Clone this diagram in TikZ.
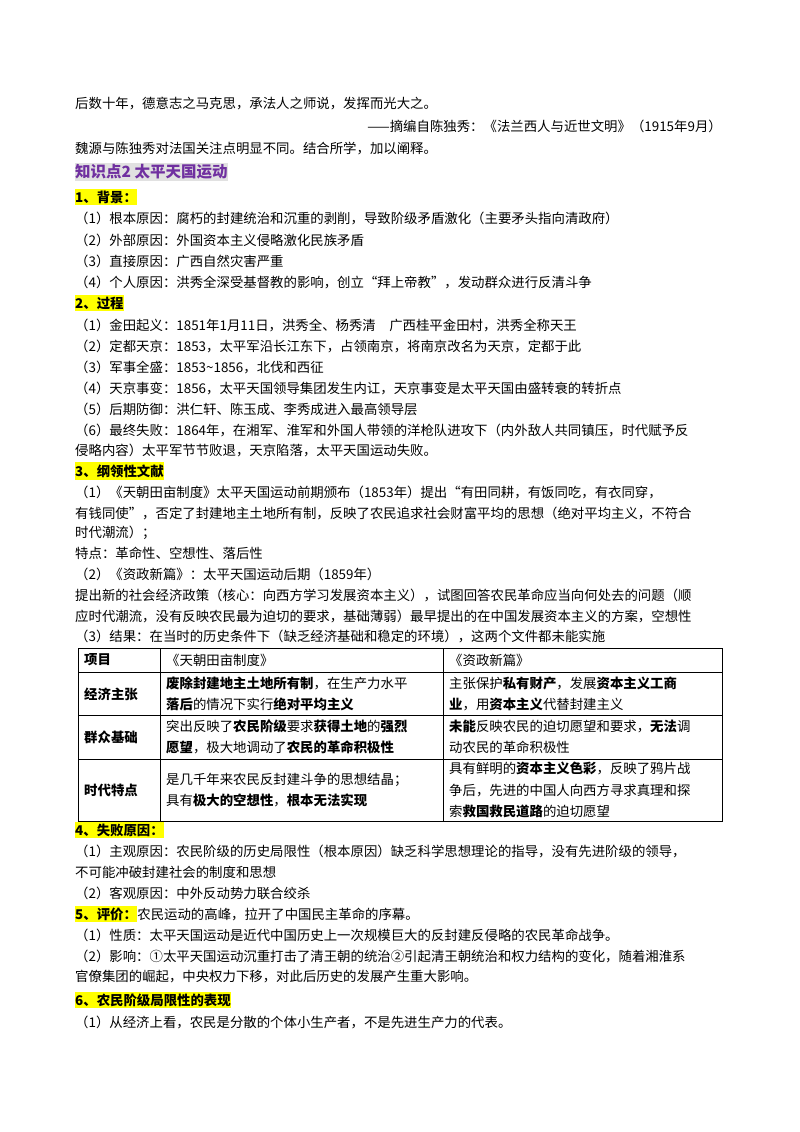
\documentclass[tikz,border=0pt]{standalone}
\usepackage{fontspec}
\setmainfont{Noto Sans CJK SC}
\usetikzlibrary{positioning}
\definecolor{hlyellow}{RGB}{255,255,0}
\definecolor{kpurple}{RGB}{112,48,160}
\definecolor{kgrey}{RGB}{225,225,225}
\tikzset{
  txt/.style={anchor=west,inner sep=0pt,font=\fontsize{13.4}{16}\selectfont},
  head/.style={txt,fill=hlyellow,inner ysep=2pt,font=\fontsize{13.4}{16}\selectfont\bfseries},
  cell/.style={anchor=west,inner sep=0pt,align=left,font=\fontsize{13.4}{21.5}\selectfont}
}
\newcommand{\para}[3]{%
 \node[txt] ({#1}) at (75,{#2}) {#3};%
}
\newcommand{\heading}[3]{%
 \node[head] ({#1}) at (75,{#2}) {#3};%
}
\begin{document}
\begin{tikzpicture}[x=1pt,y=-1pt]
  \useasboundingbox[fill=white] (0,0) rectangle (800,1132);
  \para{q1}{104}{后数十年，德意志之马克思，承法人之师说，发挥而光大之。}
  \node[txt,anchor=east] (q2) at (722,126) {——摘编自陈独秀：《法兰西人与近世文明》（1915年9月）};
  \para{q3}{149}{魏源与陈独秀对法国关注点明显不同。结合所学，加以阐释。}
  \node[txt,fill=kgrey,text=kpurple,inner ysep=2pt,font=\fontsize{15.5}{18}\selectfont\bfseries] (kp) at (75,172) {知识点2 太平天国运动};
  \heading{h1}{197}{1、背景：}
  \para{a1}{218}{（1）根本原因：腐朽的封建统治和沉重的剥削，导致阶级矛盾激化（主要矛头指向清政府）}
  \para{a2}{240}{（2）外部原因：外国资本主义侵略激化民族矛盾}
  \para{a3}{261}{（3）直接原因：广西自然灾害严重}
  \para{a4}{282}{（4）个人原因：洪秀全深受基督教的影响，创立“拜上帝教”，发动群众进行反清斗争}
  \heading{h2}{303}{2、过程}
  \para{b1}{325}{（1）金田起义：1851年1月11日，洪秀全、杨秀清\quad 广西桂平金田村，洪秀全称天王}
  \para{b2}{346}{（2）定都天京：1853，太平军沿长江东下，占领南京，将南京改名为天京，定都于此}
  \para{b3}{367}{（3）军事全盛：1853\textasciitilde1856，北伐和西征}
  \para{b4}{388}{（4）天京事变：1856，太平天国领导集团发生内讧，天京事变是太平天国由盛转衰的转折点}
  \para{b5}{409}{（5）后期防御：洪仁轩、陈玉成、李秀成进入最高领导层}
  \para{b6}{430}{（6）最终失败：1864年，在湘军、淮军和外国人带领的洋枪队进攻下（内外敌人共同镇压，时代赋予反}
  \para{b7}{450}{侵略内容）太平军节节败退，天京陷落，太平天国运动失败。}
  \heading{h3}{471}{3、纲领性文献}
  \para{c1}{492}{（1）《天朝田亩制度》太平天国运动前期颁布（1853年）提出“有田同耕，有饭同吃，有衣同穿，}
  \para{c2}{513}{有钱同使”，否定了封建地主土地所有制，反映了农民追求社会财富平均的思想（绝对平均主义，不符合}
  \para{c3}{533}{时代潮流）；}
  \para{c4}{553}{特点：革命性、空想性、落后性}
  \para{c5}{574}{（2）《资政新篇》：太平天国运动后期（1859年）}
  \para{c6}{595}{提出新的社会经济政策（核心：向西方学习发展资本主义），试图回答农民革命应当向何处去的问题（顺}
  \para{c7}{616}{应时代潮流，没有反映农民最为迫切的要求，基础薄弱）最早提出的在中国发展资本主义的方案，空想性}
  \para{c8}{636}{（3）结果：在当时的历史条件下（缺乏经济基础和稳定的环境），这两个文件都未能实施}
  % table
  \draw[thick] (78,648) rectangle (722,821);
  \draw (78,672) -- (722,672) (78,715) -- (722,715) (78,759) -- (722,759);
  \draw (160,648) -- (160,821) (443,648) -- (443,821);
  \node[cell,font=\fontsize{13.4}{16}\selectfont\bfseries] (t00) at (84,660) {项目};
  \node[cell] (t01) at (166,660) {《天朝田亩制度》};
  \node[cell] (t02) at (449,660) {《资政新篇》};
  \node[cell,font=\fontsize{13.4}{16}\selectfont\bfseries] (t10) at (84,694) {经济主张};
  \node[cell] (t11) at (166,694) {\textbf{废除封建地主土地所有制}，在生产力水平\\\textbf{落后}的情况下实行\textbf{绝对平均主义}};
  \node[cell] (t12) at (449,694) {主张保护\textbf{私有财产}，发展\textbf{资本主义工商}\\\textbf{业}，用\textbf{资本主义}代替封建主义};
  \node[cell,font=\fontsize{13.4}{16}\selectfont\bfseries] (t20) at (84,737) {群众基础};
  \node[cell] (t21) at (166,737) {突出反映了\textbf{农民阶级}要求\textbf{获得土地}的\textbf{强烈}\\\textbf{愿望}，极大地调动了\textbf{农民的革命积极性}};
  \node[cell] (t22) at (449,737) {\textbf{未能}反映农民的迫切愿望和要求，\textbf{无法}调\\动农民的革命积极性};
  \node[cell,font=\fontsize{13.4}{16}\selectfont\bfseries] (t30) at (84,790) {时代特点};
  \node[cell] (t31) at (166,790) {是几千年来农民反封建斗争的思想结晶；\\具有\textbf{极大的空想性}，\textbf{根本无法实现}};
  \node[cell] (t32) at (449,790) {具有鲜明的\textbf{资本主义色彩}，反映了鸦片战\\争后，先进的中国人向西方寻求真理和探\\索\textbf{救国救民道路}的迫切愿望};
  \heading{h4}{830}{4、失败原因：}
  \para{d1}{851}{（1）主观原因：农民阶级的历史局限性（根本原因）缺乏科学思想理论的指导，没有先进阶级的领导，}
  \para{d2}{872}{不可能冲破封建社会的制度和思想}
  \para{d3}{893}{（2）客观原因：中外反动势力联合绞杀}
  \heading{h5}{914}{5、评价：}
  \node[txt,right=0pt of h5] (e0) {农民运动的高峰，拉开了中国民主革命的序幕。};
  \para{e1}{935}{（1）性质：太平天国运动是近代中国历史上一次规模巨大的反封建反侵略的农民革命战争。}
  \para{e2}{956}{（2）影响：①太平天国运动沉重打击了清王朝的统治②引起清王朝统治和权力结构的变化，随着湘淮系}
  \para{e3}{977}{官僚集团的崛起，中央权力下移，对此后历史的发展产生重大影响。}
  \heading{h6}{1000}{6、农民阶级局限性的表现}
  \para{f1}{1022}{（1）从经济上看，农民是分散的个体小生产者，不是先进生产力的代表。}
\end{tikzpicture}
\end{document}
